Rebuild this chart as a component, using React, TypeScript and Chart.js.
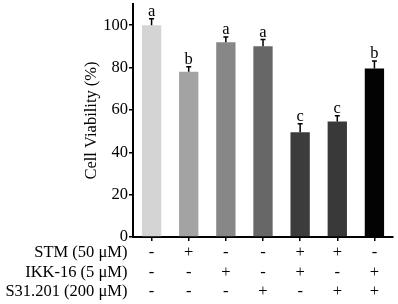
import React, { useEffect, useRef } from "react";
import { Chart, registerables } from "chart.js";

Chart.register(...registerables);

const categories = ["G1", "G2", "G3", "G4", "G5", "G6", "G7"];
const viability = [100, 78, 92, 90, 49.5, 54.5, 79.5];
const errors = [3, 2.4, 2.4, 3.2, 4, 2.7, 3.6];
const letters = ["a", "b", "a", "a", "c", "c", "b"];
const barColors = ["#d4d4d4", "#a3a3a3", "#878787", "#676767", "#3c3c3c", "#393939", "#030303"];
const stm = [false, true, false, false, true, true, false];
const ikk = [false, false, true, false, true, false, true];
const s31 = [false, false, false, true, false, true, true];
const rowLabels = ["STM (50 μM)", "IKK-16 (5 μM)", "S31.201 (200 μM)"];
const yTitle = "Cell Viability (%)";

const FONT = "'Liberation Serif', 'Times New Roman', serif";
const FS = 16.5;
const LH = 19.5 / 16.5;
const X_TICK_LEN = 4;
const X_TICK_PAD = 2;

const annotPlugin = {
  id: "annot",
  afterDatasetsDraw(chart: any) {
    const { ctx, scales } = chart;
    const xs = scales.x;
    const ys = scales.y;
    ctx.save();
    ctx.strokeStyle = "#000";
    ctx.fillStyle = "#000";
    ctx.lineWidth = 1.5;
    ctx.font = `${FS}px ${FONT}`;
    ctx.textAlign = "center";
    ctx.textBaseline = "alphabetic";
    viability.forEach((v, i) => {
      const x = xs.getPixelForValue(i);
      const y0 = ys.getPixelForValue(v);
      const y1 = ys.getPixelForValue(v + errors[i]);
      ctx.beginPath();
      ctx.moveTo(x, y0);
      ctx.lineTo(x, y1);
      ctx.moveTo(x - 2.5, y1);
      ctx.lineTo(x + 2.5, y1);
      ctx.stroke();
      ctx.fillText(letters[i], x, y1 - 3);
    });
    ctx.restore();
  },
  afterDraw(chart: any) {
    const { ctx, scales } = chart;
    const xs = scales.x;
    const lh = FS * LH;
    ctx.save();
    ctx.fillStyle = "#000";
    ctx.font = `${FS}px ${FONT}`;
    ctx.textAlign = "right";
    ctx.textBaseline = "middle";
    rowLabels.forEach((t, r) => {
      const y = xs.top + X_TICK_LEN + X_TICK_PAD + lh * (r + 0.5);
      ctx.fillText(t, 127.5, y);
    });
    ctx.restore();
  },
};

export default function App() {
  const ref = useRef<HTMLCanvasElement | null>(null);
  useEffect(() => {
    if (!ref.current) return;
    const sign = (b: boolean) => (b ? "+" : "-");
    const chart = new Chart(ref.current, {
      type: "bar",
      data: {
        labels: categories,
        datasets: [
          {
            data: viability,
            backgroundColor: barColors,
            borderWidth: 0,
            barPercentage: 0.52,
            categoryPercentage: 1,
          },
        ],
      },
      plugins: [annotPlugin],
      options: {
        animation: false,
        responsive: false,
        layout: { padding: { left: 0, right: 5, top: 4, bottom: 0 } },
        plugins: { legend: { display: false }, tooltip: { enabled: false } },
        scales: {
          x: {
            grid: {
              display: true,
              drawOnChartArea: false,
              drawTicks: true,
              tickLength: X_TICK_LEN,
              offset: false,
              color: "#000",
              lineWidth: 1.5,
            },
            border: { display: true, color: "#000", width: 2 },
            ticks: {
              color: "#000",
              font: { family: FONT, size: FS, lineHeight: LH },
              padding: X_TICK_PAD,
              maxRotation: 0,
              autoSkip: false,
              callback: (_v: any, i: number) => [sign(stm[i]), sign(ikk[i]), sign(s31[i])],
            },
            afterFit: (s: any) => {
              s.height = 67;
              s.paddingLeft = 0;
              s.paddingRight = 0;
            },
          },
          y: {
            min: 0,
            max: 110,
            grid: {
              display: true,
              drawOnChartArea: false,
              drawTicks: true,
              tickLength: 4,
              color: "#000",
              lineWidth: 1.5,
            },
            border: { display: true, color: "#000", width: 2 },
            ticks: {
              stepSize: 10,
              color: "#000",
              padding: 1,
              font: { family: FONT, size: FS },
              callback: (v: any) => (v % 20 === 0 && v <= 100 ? String(v) : ""),
            },
            title: {
              display: true,
              text: yTitle,
              color: "#000",
              font: { family: FONT, size: FS },
              padding: { top: 82, bottom: 0 },
            },
            afterFit: (s: any) => {
              s.width = 133;
              s.paddingTop = 0;
              s.paddingBottom = 0;
            },
          },
        },
      },
    });
    return () => chart.destroy();
  }, []);
  return (
    <div style={{ position: "absolute", left: 0, top: 0, width: 398, height: 304, background: "#fff" }}>
      <canvas ref={ref} width={398} height={304} />
    </div>
  );
}
